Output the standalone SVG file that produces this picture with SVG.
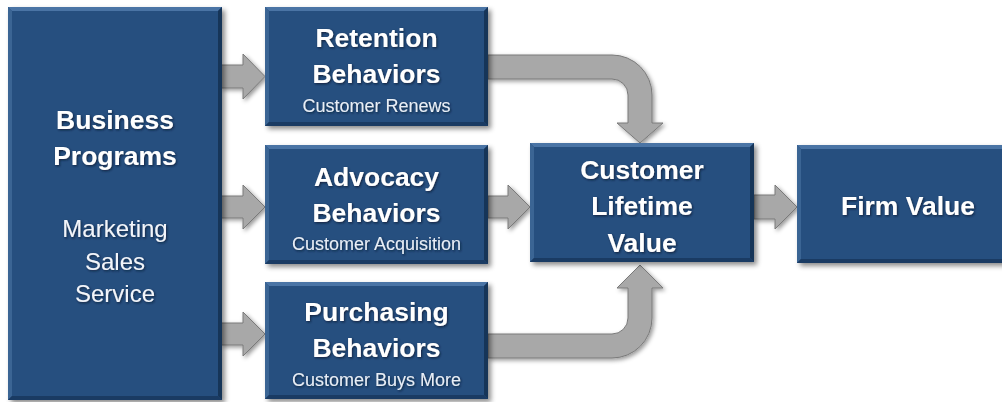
<svg xmlns="http://www.w3.org/2000/svg" width="1002" height="402" viewBox="0 0 1002 402">
  <defs>
    <filter id="shadow" x="-10%" y="-10%" width="130%" height="130%">
      <feDropShadow dx="3" dy="3" stdDeviation="2.5" flood-color="#000" flood-opacity="0.45"/>
    </filter>
    <filter id="ashadow" x="-10%" y="-20%" width="130%" height="150%">
      <feDropShadow dx="2" dy="2" stdDeviation="2" flood-color="#000" flood-opacity="0.4"/>
    </filter>
    <filter id="tshadow" x="-5%" y="-20%" width="110%" height="150%">
      <feDropShadow dx="1" dy="1.2" stdDeviation="0.8" flood-color="#0a1a30" flood-opacity="0.8"/>
    </filter>
    <linearGradient id="agrad" x1="0" y1="0" x2="0" y2="1">
      <stop offset="0" stop-color="#b4b4b4"/>
      <stop offset="1" stop-color="#9c9c9c"/>
    </linearGradient>
  </defs>
  <style>
    .box { fill: #26507f; }
    .bt { fill: #4a74a5; }
    .bl { fill: #3b6594; }
    .br { fill: #163558; }
    .bb { fill: #1a3b63; }
    .arrow { fill: #a8a8a8; stroke: #7a7a7a; stroke-width: 1; filter: url(#ashadow); }
    .title { font-family: "Liberation Sans", Arial, sans-serif; font-weight: bold; font-size: 26.5px; fill: #ffffff; text-anchor: middle; filter: url(#tshadow); }
    .sub { font-family: "Liberation Sans", Arial, sans-serif; font-size: 18px; fill: #e8eef6; text-anchor: middle; filter: url(#tshadow); }
    .list { font-family: "Liberation Sans", Arial, sans-serif; font-size: 24px; fill: #f2f5fa; text-anchor: middle; filter: url(#tshadow); }
  </style>
  <rect width="1002" height="402" fill="#ffffff"/>

  <g id="connectors">
    <path class="arrow" d="M221 65 H243 V54 L265 76.5 L243 99 V88 H221 Z"/>
    <path class="arrow" d="M221 196 H243 V185 L265 207 L243 229 V218 H221 Z"/>
    <path class="arrow" d="M221 323 H243 V312 L265 334 L243 356 V345 H221 Z"/>
    <path class="arrow" d="M488 196 H508 V185 L530 207 L508 229 V218 H488 Z"/>
    <path class="arrow" d="M754 195 H775 V185 L797 207 L775 229 V219 H754 Z"/>
    <path class="arrow" d="M488 55 H612 A40 40 0 0 1 652 95 V123 H663 L640 143 L617 123 H628 V95 A16 16 0 0 0 612 79 H488 Z"/>
    <path class="arrow" d="M488 358 H612 A40 40 0 0 0 652 318 V288 H663 L640 265 L617 288 H628 V318 A16 16 0 0 1 612 334 H488 Z"/>
  </g>

  <g id="business-programs">
    <rect class="box" x="8" y="7" width="214" height="393" filter="url(#shadow)"/>
    <polygon class="bt" points="8,7 222,7 218,11 12,11"/>
    <polygon class="bl" points="8,7 12,11 12,396 8,400"/>
    <polygon class="br" points="222,7 222,400 218,396 218,11"/>
    <polygon class="bb" points="8,400 222,400 218,396 12,396"/>
    <text class="title" x="115" y="129">Business</text>
    <text class="title" x="115" y="165">Programs</text>
    <text class="list" x="115" y="237">Marketing</text>
    <text class="list" x="115" y="270">Sales</text>
    <text class="list" x="115" y="302">Service</text>
  </g>

  <g id="retention-behaviors">
    <rect class="box" x="265" y="7" width="223" height="119" filter="url(#shadow)"/>
    <polygon class="bt" points="265,7 488,7 484,11 269,11"/>
    <polygon class="bl" points="265,7 269,11 269,122 265,126"/>
    <polygon class="br" points="488,7 488,126 484,122 484,11"/>
    <polygon class="bb" points="265,126 488,126 484,122 269,122"/>
    <text class="title" x="376.5" y="47">Retention</text>
    <text class="title" x="376.5" y="83">Behaviors</text>
    <text class="sub" x="376.5" y="112">Customer Renews</text>
  </g>

  <g id="advocacy-behaviors">
    <rect class="box" x="265" y="145" width="223" height="119" filter="url(#shadow)"/>
    <polygon class="bt" points="265,145 488,145 484,149 269,149"/>
    <polygon class="bl" points="265,145 269,149 269,260 265,264"/>
    <polygon class="br" points="488,145 488,264 484,260 484,149"/>
    <polygon class="bb" points="265,264 488,264 484,260 269,260"/>
    <text class="title" x="376.5" y="186">Advocacy</text>
    <text class="title" x="376.5" y="222">Behaviors</text>
    <text class="sub" x="376.5" y="250">Customer Acquisition</text>
  </g>

  <g id="purchasing-behaviors">
    <rect class="box" x="265" y="282" width="223" height="117" filter="url(#shadow)"/>
    <polygon class="bt" points="265,282 488,282 484,286 269,286"/>
    <polygon class="bl" points="265,282 269,286 269,395 265,399"/>
    <polygon class="br" points="488,282 488,399 484,395 484,286"/>
    <polygon class="bb" points="265,399 488,399 484,395 269,395"/>
    <text class="title" x="376.5" y="321">Purchasing</text>
    <text class="title" x="376.5" y="357">Behaviors</text>
    <text class="sub" x="376.5" y="386">Customer Buys More</text>
  </g>

  <g id="customer-lifetime-value">
    <rect class="box" x="530" y="143" width="224" height="119" filter="url(#shadow)"/>
    <polygon class="bt" points="530,143 754,143 750,147 534,147"/>
    <polygon class="bl" points="530,143 534,147 534,258 530,262"/>
    <polygon class="br" points="754,143 754,262 750,258 750,147"/>
    <polygon class="bb" points="530,262 754,262 750,258 534,258"/>
    <text class="title" x="642" y="179">Customer</text>
    <text class="title" x="642" y="215">Lifetime</text>
    <text class="title" x="642" y="252">Value</text>
  </g>

  <g id="firm-value">
    <rect class="box" x="797" y="145" width="225" height="118" filter="url(#shadow)"/>
    <polygon class="bt" points="797,145 1022,145 1018,149 801,149"/>
    <polygon class="bl" points="797,145 801,149 801,259 797,263"/>
    <polygon class="bb" points="797,263 1022,263 1018,259 801,259"/>
    <text class="title" x="908" y="215">Firm Value</text>
  </g>
</svg>
